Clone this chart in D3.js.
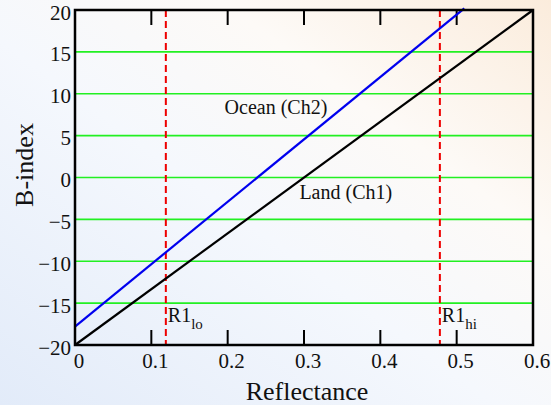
<!DOCTYPE html>
<html><head><meta charset="utf-8">
<script src="https://cdn.jsdelivr.net/npm/d3@7"></script>
<style>html,body{margin:0;padding:0;background:#fff;}svg{display:block;}</style>
</head><body>
<script>
const xTicks = [0, 0.1, 0.2, 0.3, 0.4, 0.5, 0.6];
const yTicks = [-20, -15, -10, -5, 0, 5, 10, 15, 20];
const gridY = [-15, -10, -5, 0, 5, 10, 15];
const landLine = [[0, -20], [0.6, 20]];
const oceanLine = [[0, -17.8], [0.51, 20.2]];
const thresholds = [{name: "R1", sub: "lo", x: 0.119}, {name: "R1", sub: "hi", x: 0.478}];
const labels = [{text: "Ocean (Ch2)", x: 0.196, y: 7.6}, {text: "Land (Ch1)", x: 0.294, y: -2.6}];

const W = 551, H = 405;
const m = {l: 75, r: 18, t: 10, b: 60};
const svg = d3.select("body").append("svg").attr("width", W).attr("height", H);
const defs = svg.append("defs");
const g1 = defs.append("linearGradient").attr("id", "bg").attr("x1", "100%").attr("y1", "0%").attr("x2", "0%").attr("y2", "100%");
g1.append("stop").attr("offset", "0%").attr("stop-color", "#fbecdc");
g1.append("stop").attr("offset", "30%").attr("stop-color", "#fdfaf7");
g1.append("stop").attr("offset", "55%").attr("stop-color", "#f5f8fd");
g1.append("stop").attr("offset", "100%").attr("stop-color", "#e2ebf9");
svg.append("rect").attr("width", W).attr("height", H).attr("fill", "url(#bg)");

const x = d3.scaleLinear().domain([0, 0.6]).range([m.l, W - m.r]);
const y = d3.scaleLinear().domain([-20, 20]).range([H - m.b, m.t]);
const font = "'Liberation Serif','Times New Roman',serif";

// gridlines
svg.append("g").selectAll("line").data(gridY).join("line")
  .attr("x1", x(0)).attr("x2", x(0.6)).attr("y1", d => y(d)).attr("y2", d => y(d))
  .attr("stroke", "#22f022").attr("stroke-width", 1.6);

// inward ticks top & bottom
const inner = xTicks.slice(1, -1);
svg.append("g").selectAll("line").data(inner).join("line")
  .attr("x1", d => x(d)).attr("x2", d => x(d)).attr("y1", y(-20)).attr("y2", y(-20) - 15)
  .attr("stroke", "#000").attr("stroke-width", 2);
svg.append("g").selectAll("line").data(inner).join("line")
  .attr("x1", d => x(d)).attr("x2", d => x(d)).attr("y1", y(20)).attr("y2", y(20) + 15)
  .attr("stroke", "#000").attr("stroke-width", 2);

// threshold lines
svg.append("g").selectAll("line").data(thresholds).join("line")
  .attr("x1", d => x(d.x)).attr("x2", d => x(d.x)).attr("y1", y(20)).attr("y2", y(-20))
  .attr("stroke", "#ee0000").attr("stroke-width", 2).attr("stroke-dasharray", "7,4");

const line = d3.line().x(d => x(d[0])).y(d => y(d[1]));
svg.append("path").datum(landLine).attr("d", line).attr("fill", "none").attr("stroke", "#000").attr("stroke-width", 2.2);
svg.append("path").datum(oceanLine).attr("d", line).attr("fill", "none").attr("stroke", "#0000ee").attr("stroke-width", 2.2);

// frame
svg.append("rect").attr("x", x(0)).attr("y", y(20)).attr("width", x(0.6) - x(0)).attr("height", y(-20) - y(20))
  .attr("fill", "none").attr("stroke", "#000").attr("stroke-width", 2.5);

// tick labels
svg.append("g").selectAll("text").data(xTicks).join("text")
  .attr("x", d => x(d) + 4).attr("y", y(-20) + 23).attr("text-anchor", "middle")
  .attr("font-family", font).attr("font-size", 21).attr("fill", "#111")
  .text(d => d === 0 ? "0" : d3.format(".1f")(d));
svg.append("g").selectAll("text").data(yTicks).join("text")
  .attr("x", x(0) - 4).attr("y", d => y(d) + 9.5).attr("text-anchor", "end")
  .attr("font-family", font).attr("font-size", 21).attr("fill", "#111")
  .text(d => d < 0 ? "\u2212" + Math.abs(d) : String(d));

// axis titles
svg.append("text").attr("x", (x(0) + x(0.6)) / 2 + 3).attr("y", 400).attr("text-anchor", "middle")
  .attr("font-family", font).attr("font-size", 26).attr("fill", "#111").text("Reflectance");
svg.append("text").attr("transform", "translate(33,165) rotate(-90)").attr("text-anchor", "middle")
  .attr("font-family", font).attr("font-size", 26).attr("fill", "#111").text("B-index");

// line labels
svg.append("g").selectAll("text").data(labels).join("text")
  .attr("x", d => x(d.x)).attr("y", d => y(d.y))
  .attr("font-family", font).attr("font-size", 20).attr("fill", "#111").text(d => d.text);

// threshold labels
const tl = svg.append("g").selectAll("text").data(thresholds).join("text")
  .attr("x", d => x(d.x) + 2).attr("y", 321.7)
  .attr("font-family", font).attr("font-size", 20).attr("fill", "#111");
tl.append("tspan").text(d => d.name);
tl.append("tspan").attr("font-size", 15).attr("dy", 7.5).text(d => d.sub);
</script>
</body></html>
